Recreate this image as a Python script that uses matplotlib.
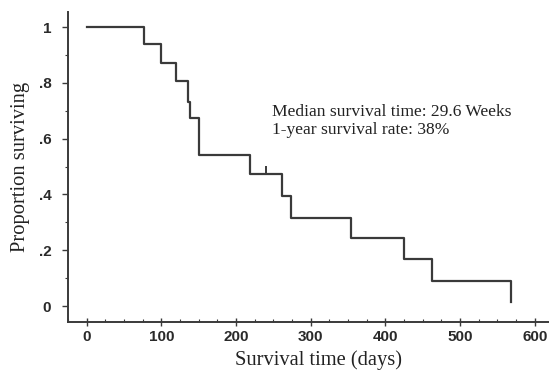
import matplotlib.pyplot as plt
from matplotlib.ticker import MultipleLocator, FixedLocator

# Kaplan-Meier steps
days = [0, 77, 100, 120, 135, 138, 151, 219, 262, 273, 354, 425, 462, 568]
surv = [1.0, 0.941, 0.870, 0.806, 0.732, 0.673, 0.541, 0.472, 0.394, 0.317, 0.245, 0.167, 0.091, 0.013]
censor_day = [240]
censor_lo = [0.472]
censor_hi = [0.503]

y_ticks = [0, 0.2, 0.4, 0.6, 0.8, 1.0]
y_labels = ['0', '.2', '.4', '.6', '.8', '1']
x_ticks = [0, 100, 200, 300, 400, 500, 600]

ink = '#3a3a3a'

fig = plt.figure(figsize=(5.49, 3.70), dpi=100)
ax = fig.add_axes([68 / 549, 48 / 370, 1 - 68 / 549, 310 / 370])

ax.step(days, surv, where='post', color=ink, lw=1.6)
ax.vlines(censor_day, censor_lo, censor_hi, color=ink, lw=1.4)

ax.set_xlim(-25, 619)
ax.set_ylim(-0.057, 1.054)

for s in ['top', 'right']:
    ax.spines[s].set_visible(False)
for s in ['left', 'bottom']:
    ax.spines[s].set_color(ink)
    ax.spines[s].set_linewidth(1.4)

ax.yaxis.set_major_locator(FixedLocator(y_ticks))
ax.set_yticklabels(y_labels)
ax.yaxis.set_minor_locator(MultipleLocator(0.1))
ax.xaxis.set_major_locator(FixedLocator(x_ticks))
ax.xaxis.set_minor_locator(MultipleLocator(25))

ax.tick_params(axis='y', which='major', direction='out', length=4, width=1, color=ink, pad=8)
ax.tick_params(axis='y', which='minor', direction='out', length=2.5, width=0.8, color=ink)
ax.tick_params(axis='x', which='major', direction='inout', length=6, width=1, color=ink, pad=3)
ax.tick_params(axis='x', which='minor', direction='in', length=2.5, width=0.8, color=ink)
for lab in ax.get_xticklabels() + ax.get_yticklabels():
    lab.set_fontfamily('Liberation Sans')
    lab.set_fontsize(11)
    lab.set_fontweight('bold')
    lab.set_color('#2a2a2a')

serif = 'Liberation Serif'
ax.set_xlabel('Survival time (days)', family=serif, fontsize=14.8, color='#222222', labelpad=3)
ax.xaxis.set_label_coords(0.52, -0.09)
ax.set_ylabel('Proportion surviving', family=serif, fontsize=14.8, color='#222222', labelpad=6)

ax.text(248, 0.695, 'Median survival time: 29.6 Weeks', family=serif, fontsize=12.6,
        color='#222222', va='center')
ax.text(248, 0.630, '1-year survival rate: 38%', family=serif, fontsize=12.6,
        color='#222222', va='center')

fig.savefig('out.png', dpi=100)
